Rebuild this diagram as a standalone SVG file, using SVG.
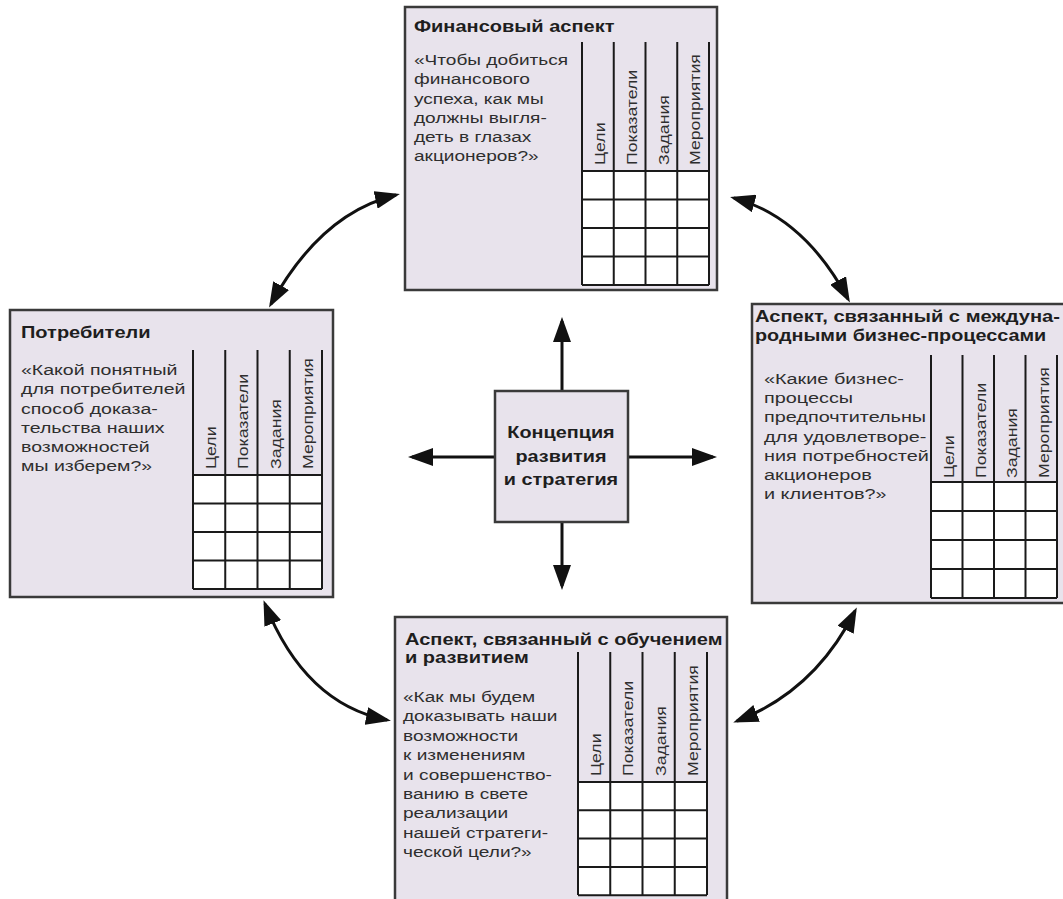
<svg xmlns="http://www.w3.org/2000/svg" width="1063" height="899" viewBox="0 0 1063 899">
<style>
.box{fill:#e8e3ec;stroke:#3a3a3a;stroke-width:2.5}
.cells{fill:#ffffff}
.grid{stroke:#1a1a1a;stroke-width:2;fill:none}
.title{font-family:"Liberation Sans",Arial,sans-serif;font-weight:bold;font-size:16px;fill:#1e1e1e}
.body{font-family:"Liberation Sans",Arial,sans-serif;font-size:15.5px;fill:#2e2e2e}
.lbl{font-family:"Liberation Sans",Arial,sans-serif;font-size:15px;fill:#2e2e2e}
.ctr{font-family:"Liberation Sans",Arial,sans-serif;font-weight:bold;font-size:16px;fill:#1e1e1e;text-anchor:middle}
.arr{stroke:#111;stroke-width:3;fill:none;marker-end:url(#ah)}
.arr2{stroke:#111;stroke-width:3;fill:none;marker-start:url(#ah);marker-end:url(#ah)}
</style>
<defs>
<marker id="ah" markerUnits="userSpaceOnUse" markerWidth="25" markerHeight="18" viewBox="0 0 25 18" refX="21" refY="9" orient="auto-start-reverse">
<path d="M0,0 L25,9 L0,18 z" fill="#111"/>
</marker>
</defs>

<g id="connectors">
<path class="arr" d="M562,391 L562,321"/>
<path class="arr" d="M628,457 L713,457"/>
<path class="arr" d="M495,457 L412,457"/>
<path class="arr" d="M562,522 L562,586"/>
<path class="arr2" d="M271,304 Q321,213 396,195"/>
<path class="arr2" d="M734,198 Q804,217 848,299"/>
<path class="arr2" d="M265,604 Q305,704 387,720"/>
<path class="arr2" d="M855,611 Q815,691 737,721"/>
</g>

<g id="finance">
<rect class="box" x="405" y="7" width="312" height="283"/>
<text class="title" transform="translate(414,32) scale(1.25 1)">Финансовый аспект</text>
<text class="body" transform="translate(414,65) scale(1.23 1)"><tspan x="0" y="0">«Чтобы добиться</tspan><tspan x="0" y="19.3">финансового</tspan><tspan x="0" y="38.6">успеха, как мы</tspan><tspan x="0" y="57.9">должны выгля-</tspan><tspan x="0" y="77.2">деть в глазах</tspan><tspan x="0" y="96.5">акционеров?»</tspan></text>
<rect class="cells" x="582" y="171" width="127" height="114"/>
<path class="grid" d="M582,42V285M613.75,42V285M645.5,42V285M677.25,42V285M709,42V285M582,171H709M582,199.5H709M582,228H709M582,256.5H709M582,285H709"/>
<text class="lbl" transform="translate(605,165) rotate(-90) scale(1.18 1)">Цели</text>
<text class="lbl" transform="translate(636.75,165) rotate(-90) scale(1.18 1)">Показатели</text>
<text class="lbl" transform="translate(668.5,165) rotate(-90) scale(1.18 1)">Задания</text>
<text class="lbl" transform="translate(700.25,165) rotate(-90) scale(1.18 1)">Мероприятия</text>
</g>

<g id="customers">
<rect class="box" x="10" y="310" width="323" height="287"/>
<text class="title" transform="translate(21,338) scale(1.25 1)">Потребители</text>
<text class="body" transform="translate(21,375) scale(1.26 1)"><tspan x="0" y="0">«Какой понятный</tspan><tspan x="0" y="19.3">для потребителей</tspan><tspan x="0" y="38.6">способ доказа-</tspan><tspan x="0" y="57.9">тельства наших</tspan><tspan x="0" y="77.2">возможностей</tspan><tspan x="0" y="96.5">мы изберем?»</tspan></text>
<rect class="cells" x="193" y="475" width="129" height="114"/>
<path class="grid" d="M193,350V589M225.25,350V589M257.5,350V589M289.75,350V589M322,350V589M193,475H322M193,503.5H322M193,532H322M193,560.5H322M193,589H322"/>
<text class="lbl" transform="translate(216,469) rotate(-90) scale(1.18 1)">Цели</text>
<text class="lbl" transform="translate(248.25,469) rotate(-90) scale(1.18 1)">Показатели</text>
<text class="lbl" transform="translate(280.5,469) rotate(-90) scale(1.18 1)">Задания</text>
<text class="lbl" transform="translate(312.75,469) rotate(-90) scale(1.18 1)">Мероприятия</text>
</g>

<g id="processes">
<rect class="box" x="752" y="304" width="320" height="299"/>
<text class="title" transform="translate(755,322) scale(1.25 1)"><tspan x="0" y="0" textLength="244" lengthAdjust="spacingAndGlyphs">Аспект, связанный с междуна-</tspan><tspan x="0" y="19.5" textLength="233" lengthAdjust="spacingAndGlyphs">родными бизнес-процессами</tspan></text>
<text class="body" transform="translate(764,384) scale(1.28 1)"><tspan x="0" y="0">«Какие бизнес-</tspan><tspan x="0" y="19.2">процессы</tspan><tspan x="0" y="38.4">предпочтительны</tspan><tspan x="0" y="57.6">для удовлетворе-</tspan><tspan x="0" y="76.8">ния потребностей</tspan><tspan x="0" y="96">акционеров</tspan><tspan x="0" y="115.2">и клиентов?»</tspan></text>
<rect class="cells" x="931" y="482" width="126" height="116"/>
<path class="grid" d="M931,355V598M962.5,355V598M994,355V598M1025.5,355V598M1057,355V598M931,482H1057M931,511H1057M931,540H1057M931,569H1057M931,598H1057"/>
<text class="lbl" transform="translate(954,478) rotate(-90) scale(1.18 1)">Цели</text>
<text class="lbl" transform="translate(985.5,478) rotate(-90) scale(1.18 1)">Показатели</text>
<text class="lbl" transform="translate(1017,478) rotate(-90) scale(1.18 1)">Задания</text>
<text class="lbl" transform="translate(1048.5,478) rotate(-90) scale(1.18 1)">Мероприятия</text>
</g>

<g id="learning">
<rect class="box" x="395" y="617" width="332" height="300"/>
<text class="title" transform="translate(405,645) scale(1.25 1)"><tspan x="0" y="0">Аспект, связанный с обучением</tspan><tspan x="0" y="18.5">и развитием</tspan></text>
<text class="body" transform="translate(403,702) scale(1.23 1)"><tspan x="0" y="0">«Как мы будем</tspan><tspan x="0" y="19.4">доказывать наши</tspan><tspan x="0" y="38.8">возможности</tspan><tspan x="0" y="58.2">к изменениям</tspan><tspan x="0" y="77.6">и совершенство-</tspan><tspan x="0" y="97">ванию в свете</tspan><tspan x="0" y="116.4">реализации</tspan><tspan x="0" y="135.8">нашей стратеги-</tspan><tspan x="0" y="155.2">ческой цели?»</tspan></text>
<rect class="cells" x="578" y="782" width="129" height="113"/>
<path class="grid" d="M578,652V895M610.25,652V895M642.5,652V895M674.75,652V895M707,652V895M578,782H707M578,810.3H707M578,838.6H707M578,866.9H707M578,895.2H707"/>
<text class="lbl" transform="translate(601,776) rotate(-90) scale(1.18 1)">Цели</text>
<text class="lbl" transform="translate(633.25,776) rotate(-90) scale(1.18 1)">Показатели</text>
<text class="lbl" transform="translate(665.5,776) rotate(-90) scale(1.18 1)">Задания</text>
<text class="lbl" transform="translate(697.75,776) rotate(-90) scale(1.18 1)">Мероприятия</text>
</g>

<g id="vision">
<rect class="box" x="495" y="391" width="133" height="131"/>
<text class="ctr" transform="translate(561,438) scale(1.24 1)"><tspan x="0" y="0">Концепция</tspan><tspan x="0" y="24">развития</tspan><tspan x="0" y="47">и стратегия</tspan></text>
</g>
</svg>
